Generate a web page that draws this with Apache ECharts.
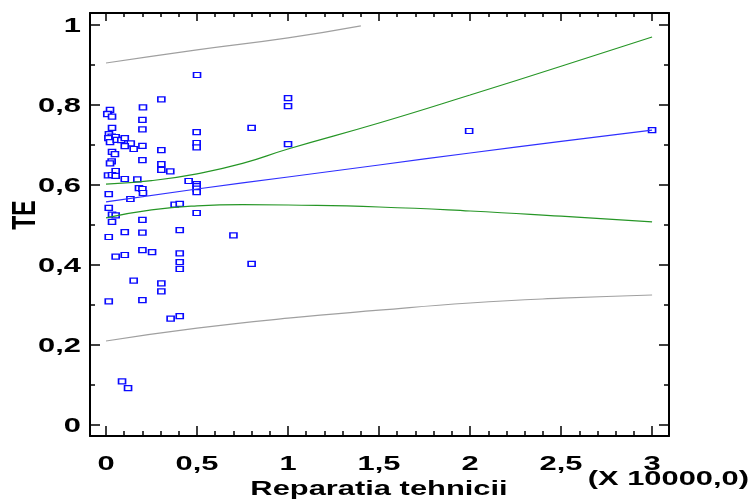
<!DOCTYPE html>
<html>
<head>
<meta charset="utf-8">
<script src="https://cdn.jsdelivr.net/npm/echarts@6/dist/echarts.min.js"></script>
<style>
    html, body { margin: 0; padding: 0; background: #fff; }
    #chart { width: 750px; height: 501px; }
</style>
</head>
<body>
<div id="chart"></div>
<script>
// tick labels
let xMajor = [0, 0.5, 1, 1.5, 2, 2.5, 3];
let xLabels = ['0', '0,5', '1', '1,5', '2', '2,5', '3'];
let yMajor = [0, 0.2, 0.4, 0.6, 0.8, 1];
let yLabels = ['0', '0,2', '0,4', '0,6', '0,8', '1'];
let xMinor = [];
for (let i = 1; i < 30; i++) {
    if (i % 5 !== 0) xMinor.push(i / 10);
}
let yMinor = [0.1, 0.3, 0.5, 0.7, 0.9];

// observed points (Reparatia tehnicii x 10000, TE)
let points = [
    [0.022, 0.788], [0.011, 0.778], [0.007, 0.777], [0.033, 0.771], [0.203, 0.794],
    [0.20, 0.763], [0.033, 0.743], [0.20, 0.739], [0.016, 0.727], [0.031, 0.721],
    [0.013, 0.717], [0.022, 0.707], [0.053, 0.72], [0.059, 0.713], [0.084, 0.712],
    [0.103, 0.717], [0.136, 0.704], [0.103, 0.697], [0.152, 0.69], [0.033, 0.683],
    [0.049, 0.677], [0.20, 0.698], [0.20, 0.662], [0.031, 0.659], [0.022, 0.654],
    [0.053, 0.635], [0.011, 0.624], [0.033, 0.625], [0.053, 0.623], [0.103, 0.615],
    [0.172, 0.614], [0.181, 0.592], [0.20, 0.59], [0.203, 0.58], [0.015, 0.577],
    [0.134, 0.565], [0.015, 0.543], [0.033, 0.526], [0.053, 0.524], [0.033, 0.508],
    [0.20, 0.513], [0.103, 0.482], [0.20, 0.481], [0.015, 0.47], [0.20, 0.437],
    [0.253, 0.432], [0.053, 0.421], [0.103, 0.425], [0.152, 0.361], [0.015, 0.309],
    [0.20, 0.312], [0.088, 0.109], [0.121, 0.092],
    [0.304, 0.814], [0.498, 0.732], [0.498, 0.705], [0.498, 0.694], [0.304, 0.687],
    [0.304, 0.652], [0.304, 0.638], [0.353, 0.634], [0.454, 0.61], [0.498, 0.602],
    [0.498, 0.597], [0.498, 0.591], [0.498, 0.582], [0.377, 0.551], [0.405, 0.553],
    [0.498, 0.53], [0.405, 0.487], [0.405, 0.429], [0.405, 0.407], [0.405, 0.39],
    [0.304, 0.354], [0.304, 0.334], [0.405, 0.272], [0.355, 0.266],
    [0.80, 0.743], [0.70, 0.474], [0.80, 0.403],
    [1.0, 0.817], [1.0, 0.797], [1.0, 0.702],
    [0.5, 0.875], [1.995, 0.735], [3.0, 0.737]
];

// fitted line and limits
let fitLine = [[0, 0.558], [0.5, 0.590], [1, 0.620], [1.5, 0.650], [2, 0.680], [2.5, 0.709], [3, 0.737]];
let confUpper = [[0, 0.602], [0.25, 0.611], [0.5, 0.628], [0.75, 0.654], [1, 0.69], [1.5, 0.755], [2, 0.825], [2.5, 0.897], [3, 0.97]];
let confLower = [[0, 0.518], [0.25, 0.538], [0.5, 0.548], [0.75, 0.551], [1, 0.55], [1.5, 0.545], [2, 0.535], [2.5, 0.522], [3, 0.508]];
let predUpper = [[0, 0.905], [0.5, 0.938], [1, 0.968], [1.4, 0.998]];
let predLower = [[0, 0.210], [0.5, 0.242], [1, 0.267], [1.5, 0.287], [2, 0.305], [2.5, 0.317], [3, 0.325]];

let xMin = -0.088, xMax = 3.093;
let yMin = -0.0275, yMax = 1.03;

function xAxisDef(position, ticks, len, showLine) {
    return {
        type: 'value', position: position, min: xMin, max: xMax,
        axisLine: { show: showLine, onZero: false, lineStyle: { color: '#000', width: 2 } },
        axisTick: { show: true, inside: true, length: len, customValues: ticks, lineStyle: { color: '#000', width: 1.5 } },
        axisLabel: { show: false },
        splitLine: { show: false }
    };
}
function yAxisDef(position, ticks, len, showLine) {
    return {
        type: 'value', position: position, min: yMin, max: yMax,
        axisLine: { show: showLine, onZero: false, lineStyle: { color: '#000', width: 2 } },
        axisTick: { show: true, inside: true, length: len, customValues: ticks, lineStyle: { color: '#000', width: 1.5 } },
        axisLabel: { show: false },
        splitLine: { show: false }
    };
}

function lineSeries(data, color) {
    return {
        type: 'line',
        data: data,
        smooth: true,
        showSymbol: false,
        silent: true,
        lineStyle: { color: color, width: 1.2 }
    };
}

let option = {
    animation: false,
    grid: { left: 90, right: 81, top: 13, bottom: 65 },
    xAxis: [
        xAxisDef('bottom', xMajor, 10, true),
        xAxisDef('bottom', xMinor, 5, false),
        xAxisDef('top', xMajor, 8, true),
        xAxisDef('top', xMinor, 4, false)
    ],
    yAxis: [
        yAxisDef('left', yMajor, 10, true),
        yAxisDef('left', yMinor, 5, false),
        yAxisDef('right', yMajor, 10, true),
        yAxisDef('right', yMinor, 5, false)
    ],
    series: [
        lineSeries(predUpper, '#a0a0a0'),
        lineSeries(predLower, '#a0a0a0'),
        lineSeries(confUpper, '#269626'),
        lineSeries(confLower, '#269626'),
        lineSeries(fitLine, '#3030ff'),
        {
            type: 'scatter',
            data: points,
            symbol: 'rect',
            symbolSize: [7, 5],
            itemStyle: { color: '#fff', borderColor: '#0a0aff', borderWidth: 1.4, opacity: 1 }
        }
    ]
};

let chart = echarts.init(document.getElementById('chart'));
chart.setOption(option);

// labels drawn wide, placed from the axis scales
let stretch = 1.47;
let labelFont = 'bold 21px "Liberation Sans"';
let graphics = [];
xMajor.forEach((v, i) => {
    let px = chart.convertToPixel({ xAxisIndex: 0 }, v);
    graphics.push({
        type: 'text', x: px, y: 464, scaleX: stretch,
        style: { text: xLabels[i], font: labelFont, fill: '#000', textAlign: 'center', textVerticalAlign: 'middle', align: 'center', verticalAlign: 'middle' }
    });
});
yMajor.forEach((v, i) => {
    let py = chart.convertToPixel({ yAxisIndex: 0 }, v);
    graphics.push({
        type: 'text', x: 81, y: py + 1, scaleX: stretch,
        style: { text: yLabels[i], font: labelFont, fill: '#000', textAlign: 'right', textVerticalAlign: 'middle', align: 'right', verticalAlign: 'middle' }
    });
});
graphics.push({
    type: 'text', x: 379, y: 489, scaleX: stretch,
    style: { text: 'Reparatia tehnicii', font: labelFont, fill: '#000', textAlign: 'center', textVerticalAlign: 'middle', align: 'center', verticalAlign: 'middle' }
});
graphics.push({
    type: 'text', x: 749, y: 479, scaleX: stretch,
    style: { text: '(X 10000,0)', font: labelFont, fill: '#000', textAlign: 'right', textVerticalAlign: 'middle', align: 'right', verticalAlign: 'middle' }
});
graphics.push({
    type: 'text', x: 26, y: 215, rotation: Math.PI / 2, scaleY: stretch,
    style: { text: 'TE', font: 'bold 23px "Liberation Sans"', fill: '#000', textAlign: 'center', textVerticalAlign: 'middle', align: 'center', verticalAlign: 'middle' }
});
chart.setOption({ graphic: { elements: graphics } });
</script>
</body>
</html>
